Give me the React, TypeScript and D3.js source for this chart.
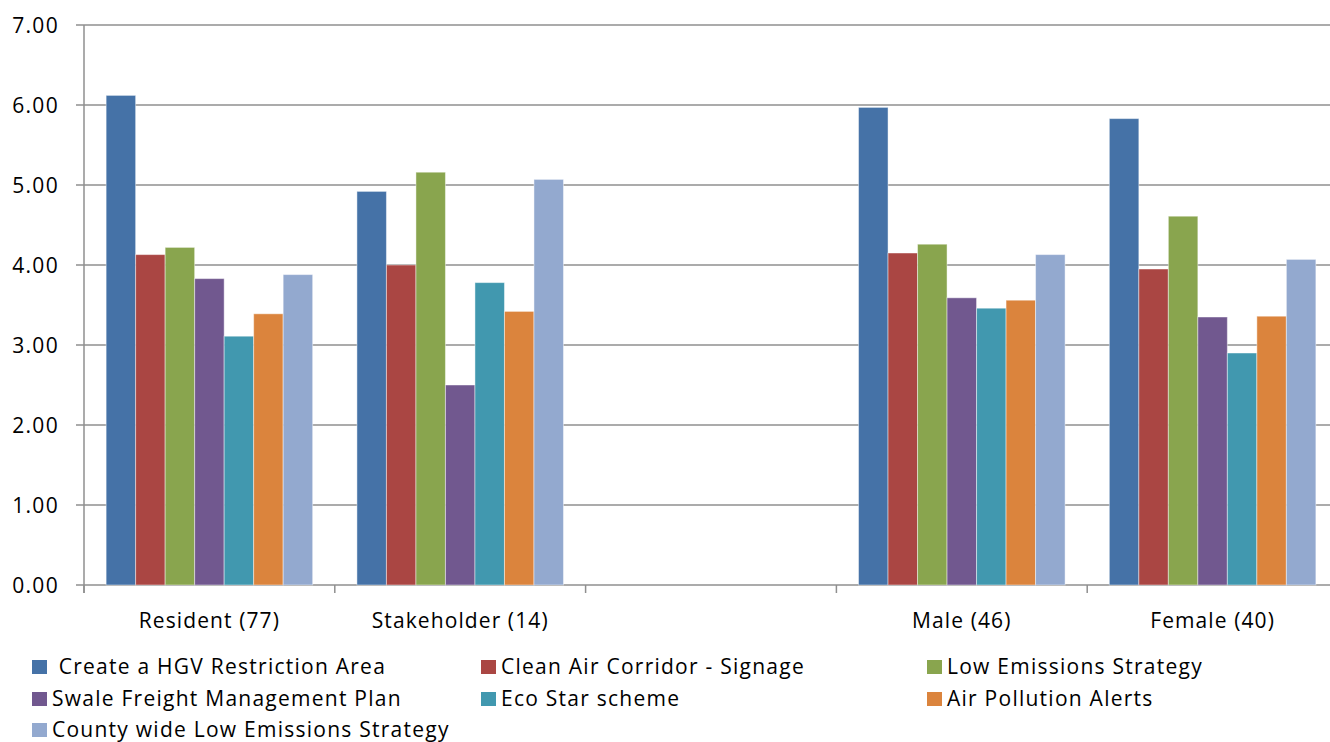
import React from "react";
import * as d3 from "d3";

// Category groups along the x axis (the third group is an empty spacer)
const categories: string[] = ["Resident (77)", "Stakeholder (14)", "", "Male (46)", "Female (40)"];

const seriesNames: string[] = [
  " Create a HGV Restriction Area",
  "Clean Air Corridor - Signage",
  "Low Emissions Strategy",
  "Swale Freight Management Plan",
  "Eco Star scheme",
  "Air Pollution Alerts",
  "County wide Low Emissions Strategy",
];

const seriesColors: string[] = ["#4572A7", "#AA4643", "#89A54E", "#71588F", "#4198AF", "#DB843D", "#93A9CF"];

// Mean scores per series, one value per category (null = no bar)
const hgvRestriction: (number | null)[] = [6.12, 4.92, null, 5.97, 5.83];
const cleanAirSignage: (number | null)[] = [4.13, 4.0, null, 4.15, 3.95];
const lowEmissions: (number | null)[] = [4.22, 5.16, null, 4.26, 4.61];
const swaleFreight: (number | null)[] = [3.83, 2.5, null, 3.59, 3.35];
const ecoStar: (number | null)[] = [3.11, 3.78, null, 3.46, 2.9];
const airPollutionAlerts: (number | null)[] = [3.39, 3.42, null, 3.56, 3.36];
const countyLowEmissions: (number | null)[] = [3.88, 5.07, null, 4.13, 4.07];

const seriesValues = [
  hgvRestriction,
  cleanAirSignage,
  lowEmissions,
  swaleFreight,
  ecoStar,
  airPollutionAlerts,
  countyLowEmissions,
];

const yTicks: number[] = [0, 1, 2, 3, 4, 5, 6, 7];

const W = 1330;
const H = 742;
const plot = { left: 84, right: 1338, top: 25, bottom: 585 };
const FONT = "'Open Sans', 'Noto Sans', sans-serif";
const AXIS = "#8f8f8f";

export default function App() {
  const y = d3.scaleLinear().domain([0, 7]).range([plot.bottom, plot.top]);
  const x0 = d3
    .scaleBand<number>()
    .domain(categories.map((_, i) => i))
    .range([plot.left, plot.right])
    .paddingInner(0)
    .paddingOuter(0);
  const bw = x0.bandwidth();
  // Seven bars per group with a 150% gap split across both sides
  const x1 = d3
    .scaleBand<number>()
    .domain(seriesNames.map((_, i) => i))
    .range([0, bw])
    .paddingInner(0)
    .paddingOuter(0.75);

  const fmt = d3.format(".2f");
  const boundaries = categories.map((_, i) => x0(i) as number).concat([plot.right]);

  const legendCols = [32, 481, 927];
  const legendRows = [667, 699, 730];

  return (
    <svg
      width={W}
      height={H}
      style={{ position: "absolute", left: 0, top: 0, background: "#fff" }}
      fontFamily={FONT}
    >
      {/* horizontal gridlines with short outward ticks */}
      {yTicks.map((t) => (
        <line
          key={"g" + t}
          x1={plot.left - 8}
          x2={plot.right}
          y1={y(t)}
          y2={y(t)}
          stroke={AXIS}
          strokeWidth={1.5}
        />
      ))}
      {/* y axis line */}
      <line x1={plot.left} x2={plot.left} y1={plot.top} y2={plot.bottom + 8} stroke={AXIS} strokeWidth={1.5} />
      {/* category boundary ticks */}
      {boundaries.map((bx, i) => (
        <line key={"xt" + i} x1={bx} x2={bx} y1={plot.bottom} y2={plot.bottom + 8} stroke={AXIS} strokeWidth={1.5} />
      ))}
      {/* y tick labels */}
      {yTicks.map((t) => (
        <text
          key={"yl" + t}
          x={59}
          y={y(t) + 7.5}
          textAnchor="end"
          fontSize={21}
          letterSpacing={1.3}
          fill="#000"
        >
          {fmt(t)}
        </text>
      ))}
      {/* bars */}
      {seriesValues.map((vals, s) =>
        vals.map((v, c) =>
          v == null ? null : (
            <rect
              key={`b${s}-${c}`}
              x={(x0(c) as number) + (x1(s) as number)}
              y={y(v)}
              width={x1.bandwidth()}
              height={y(0) - y(v)}
              fill={seriesColors[s]}
              stroke="rgba(255,255,255,0.45)"
              strokeWidth={1}
            />
          )
        )
      )}
      {/* category labels */}
      {categories.map((c, i) => (
        <text
          key={"cl" + i}
          x={(x0(i) as number) + bw / 2}
          y={628}
          textAnchor="middle"
          fontSize={21}
          letterSpacing={1.1}
          fill="#000"
        >
          {c}
        </text>
      ))}
      {/* legend */}
      {seriesNames.map((name, i) => {
        const lx = legendCols[i % 3];
        const ly = legendRows[Math.floor(i / 3)];
        return (
          <g key={"lg" + i}>
            <rect x={lx} y={ly - 7} width={15} height={14} fill={seriesColors[i]} />
            <text
              x={lx + 20}
              y={ly + 7}
              fontSize={21}
              letterSpacing={1.25}
              fill="#000"
              style={{ whiteSpace: "pre" }}
            >
              {name}
            </text>
          </g>
        );
      })}
    </svg>
  );
}
